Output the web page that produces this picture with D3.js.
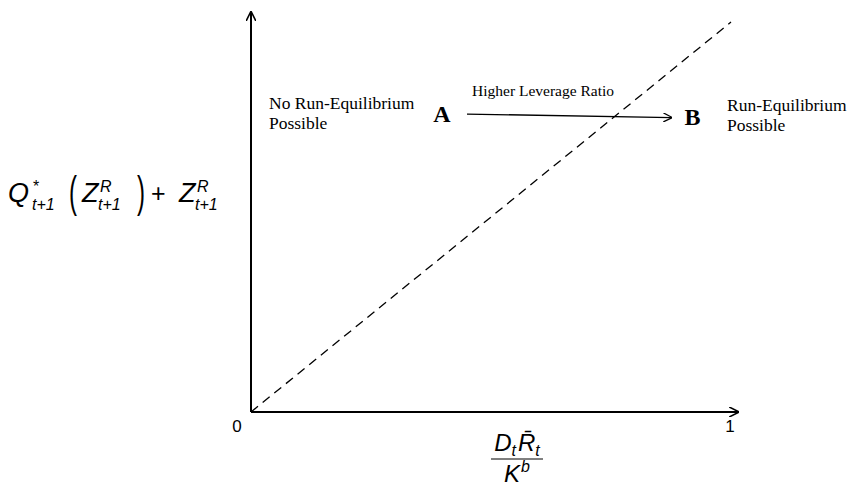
<!DOCTYPE html>
<html><head><meta charset="utf-8">
<script src="https://cdn.jsdelivr.net/npm/d3@7"></script>
<style>body{margin:0;background:#fff}</style>
</head><body>
<svg id="c" width="860" height="488"></svg>
<script>
// ---- data ----
const xTicks = [0, 1];
const xTickLabels = ["0", "1"];
const diagonal = [[0, 0], [1, 1]];           // dashed 45° line
const pointA = {label: "A", x: 0.45, y: 0.764};
const pointB = {label: "B", x: 0.876, y: 0.755};
const arrowLabel = "Higher Leverage Ratio";
const leftText = ["No Run-Equilibrium", "Possible"];
const rightText = ["Run-Equilibrium", "Possible"];

const svg = d3.select("#c");
const x = d3.scaleLinear().domain([0, 1]).range([251, 731]);
const y = d3.scaleLinear().domain([0, 1]).range([412, 22]);

const defs = svg.append("defs");
defs.append("marker").attr("id", "ah").attr("viewBox", "0 0 10 10")
  .attr("refX", 9).attr("refY", 5).attr("markerWidth", 9).attr("markerHeight", 9)
  .attr("markerUnits", "userSpaceOnUse").attr("orient", "auto")
  .append("path").attr("d", "M0,0 L10,5 L0,10").attr("fill", "none").attr("stroke", "#000").attr("stroke-width", 1.4);
defs.append("marker").attr("id", "ah2").attr("viewBox", "0 0 10 10")
  .attr("refX", 9).attr("refY", 5).attr("markerWidth", 10).attr("markerHeight", 10)
  .attr("markerUnits", "userSpaceOnUse").attr("orient", "auto")
  .append("path").attr("d", "M0,0 L10,5 L0,10").attr("fill", "none").attr("stroke", "#000").attr("stroke-width", 1.6);

// axes
svg.append("line").attr("x1", x(0)).attr("y1", y(0)).attr("x2", x(1.015)).attr("y2", y(0))
  .attr("stroke", "#000").attr("stroke-width", 2).attr("marker-end", "url(#ah2)");
svg.append("line").attr("x1", x(0)).attr("y1", y(0)).attr("x2", x(0)).attr("y2", y(1.025))
  .attr("stroke", "#000").attr("stroke-width", 2).attr("marker-end", "url(#ah2)");

// diagonal
svg.append("path").datum(diagonal)
  .attr("d", d3.line().x(d => x(d[0])).y(d => y(d[1])))
  .attr("fill", "none").attr("stroke", "#000").attr("stroke-width", 1.3)
  .attr("stroke-dasharray", "9,6");

// tick labels
svg.selectAll(".tl").data(xTicks).join("text")
  .attr("x", (d, i) => x(d) + (i === 0 ? -14 : -1)).attr("y", y(0) + 20)
  .attr("text-anchor", "middle").attr("font-family", "Liberation Sans, DejaVu Sans, sans-serif")
  .attr("font-size", 17).text((d, i) => xTickLabels[i]);

// A -> B arrow
svg.append("line").attr("x1", x(pointA.x)).attr("y1", y(pointA.y))
  .attr("x2", x(pointB.x)).attr("y2", y(pointB.y))
  .attr("stroke", "#000").attr("stroke-width", 1.3).attr("marker-end", "url(#ah)");

const serif = "Liberation Serif, DejaVu Serif, serif";
svg.append("text").attr("x", x(pointA.x) - 25).attr("y", y(pointA.y) + 8)
  .attr("text-anchor", "middle").attr("font-family", serif).attr("font-weight", "bold")
  .attr("font-size", 24).text(pointA.label);
svg.append("text").attr("x", x(pointB.x) + 21).attr("y", y(pointB.y) + 7)
  .attr("text-anchor", "middle").attr("font-family", serif).attr("font-weight", "bold")
  .attr("font-size", 24).text(pointB.label);
svg.append("text").attr("x", x(pointA.x) + 5).attr("y", y(pointA.y) - 18)
  .attr("font-family", serif).attr("font-size", 15.5).text(arrowLabel);

svg.selectAll(".lt").data(leftText).join("text")
  .attr("x", 269).attr("y", (d, i) => 109 + i * 20)
  .attr("font-family", serif).attr("font-size", 17.5)
  .text(d => d);
svg.selectAll(".rt").data(rightText).join("text")
  .attr("x", 727).attr("y", (d, i) => 111 + i * 20)
  .attr("font-family", serif).attr("font-size", 17.5)
  .text(d => d);

// x-axis label: fraction
const sans = "Liberation Sans, DejaVu Sans, sans-serif";
const fx = 517, fy = 459;
const num = svg.append("text").attr("x", fx).attr("y", fy - 8).attr("text-anchor", "middle")
  .attr("font-family", sans).attr("font-size", 24);
num.append("tspan").attr("font-style", "italic").text("D");
num.append("tspan").attr("font-style", "italic").attr("font-size", 16).attr("dy", 5).text("t");
num.append("tspan").attr("font-style", "italic").attr("dy", -5).attr("dx", 2).text("R\u0304");
num.append("tspan").attr("font-style", "italic").attr("font-size", 16).attr("dy", 5).text("t");
svg.append("line").attr("x1", fx - 26).attr("x2", fx + 26).attr("y1", fy).attr("y2", fy)
  .attr("stroke", "#000").attr("stroke-width", 1);
const den = svg.append("text").attr("x", fx).attr("y", fy + 23).attr("text-anchor", "middle")
  .attr("font-family", sans).attr("font-size", 24);
den.append("tspan").attr("font-style", "italic").text("K");
den.append("tspan").attr("font-style", "italic").attr("font-size", 16).attr("dy", -10).attr("dx", 1).text("b");

// y-axis label
const yl = svg.append("g").attr("font-family", sans);
const by = 202;
function t(xp, yp, s, size, italic) {
  yl.append("text").attr("x", xp).attr("y", yp).attr("font-size", size)
    .attr("font-style", italic ? "italic" : "normal").text(s);
}
function paren(xp, s) {
  const c = 195;
  yl.append("text").attr("x", xp).attr("y", c + 6.5).attr("font-size", 24)
    .attr("transform", `translate(0,${c}) scale(1,1.85) translate(0,${-c})`)
    .text(s);
}
t(8, by, "Q", 27, true);
t(33, by - 10, "*", 16, false);
t(32, by + 8, "t+1", 16, true);
paren(69, "(");
t(82, by, "Z", 27, true);
t(100, by - 10, "R", 16, true);
t(98, by + 8, "t+1", 16, true);
paren(137, ")");
t(151, by, "+", 25, false);
t(179, by, "Z", 27, true);
t(197, by - 10, "R", 16, true);
t(195, by + 8, "t+1", 16, true);
</script>
</body></html>
